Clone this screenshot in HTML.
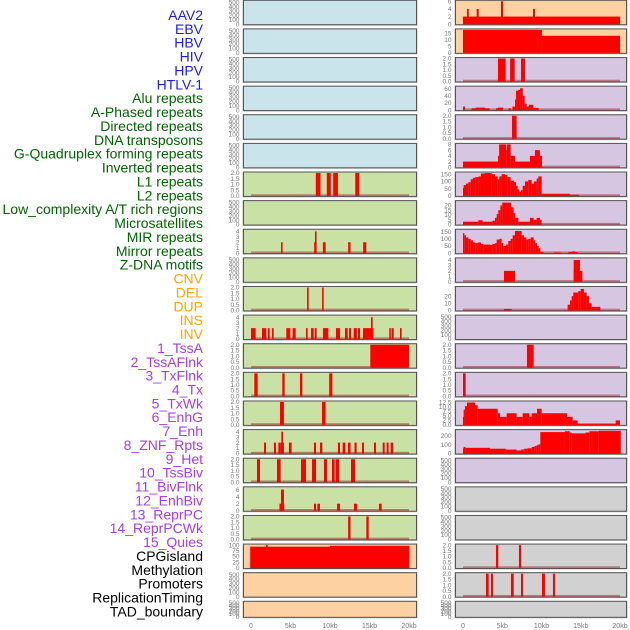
<!DOCTYPE html>
<html><head><meta charset="utf-8"><style>
html,body{margin:0;padding:0;background:#fff;width:630px;height:630px;overflow:hidden}
svg text{font-family:"Liberation Sans",sans-serif}
</style></head><body>
<svg id="chart" width="630" height="630" viewBox="0 0 630 630" xmlns="http://www.w3.org/2000/svg">
<g id="labels"></g>
<g id="panels"></g>
</svg>
<script>
const labelNames = ["AAV2","EBV","HBV","HIV","HPV","HTLV-1","Alu repeats","A-Phased repeats","Directed repeats","DNA transposons","G-Quadruplex forming repeats","Inverted repeats","L1 repeats","L2 repeats","Low_complexity A/T rich regions","Microsatellites","MIR repeats","Mirror repeats","Z-DNA motifs","CNV","DEL","DUP","INS","INV","1_TssA","2_TssAFlnk","3_TxFlnk","4_Tx","5_TxWk","6_EnhG","7_Enh","8_ZNF_Rpts","9_Het","10_TssBiv","11_BivFlnk","12_EnhBiv","13_ReprPC","14_ReprPCWk","15_Quies","CPGisland","Methylation","Promoters","ReplicationTiming","TAD_boundary"];
const labelGroups = ["v","v","v","v","v","v","r","r","r","r","r","r","r","r","r","r","r","r","r","c","c","c","c","c","h","h","h","h","h","h","h","h","h","h","h","h","h","h","h","o","o","o","o","o"];
const groupColors = {v:"#1a1aff",r:"#006400",c:"#ffa500",h:"#a43cf0",o:"#000000"};
const xTickLabels = ["0","5kb","10kb","15kb","20kb"];
const xTickValues = [0,5,10,15,20];

// left column panels: fill, ymax, ticks, segments [startKb,endKb,value]
const leftFill = ["b","b","b","b","b","b","g","g","g","g","g","g","g","g","g","g","g","g","g","o","o","o"];
const leftMax = [520,520,520,520,520,520,2,520,4.2,520,2,4.2,2,2,2,4.2,2,6.5,2,100,520,520];
const leftTicks = [
 [0,100,200,300,400,500],[0,100,200,300,400,500],[0,100,200,300,400,500],[0,100,200,300,400,500],[0,100,200,300,400,500],[0,100,200,300,400,500],
 [0,0.5,1,1.5,2],[0,100,200,300,400,500],[0,1,2,3,4],[0,100,200,300,400,500],[0,0.5,1,1.5,2],[0,1,2,3,4],
 [0,0.5,1,1.5,2],[0,0.5,1,1.5,2],[0,0.5,1,1.5,2],[0,1,2,3,4],[0,0.5,1,1.5,2],[0,2,4,6],[0,0.5,1,1.5,2],
 [0,25,50,75,100],[0,100,200,300,400,500],[0,100,200,300,400,500]];
const leftTickText = [null,null,null,null,null,null,["0.0","0.5","1.0","1.5","2.0"],null,null,null,["0.0","0.5","1.0","1.5","2.0"],null,["0.0","0.5","1.0","1.5","2.0"],["0.0","0.5","1.0","1.5","2.0"],["0.0","0.5","1.0","1.5","2.0"],null,["0.0","0.5","1.0","1.5","2.0"],null,["0.0","0.5","1.0","1.5","2.0"],null,null,null];
const leftSegs = [
 [],[],[],[],[],[],
 [[8.2,8.8,2],[9.6,10.1,2],[10.4,11.0,2],[13.2,13.7,2]],
 [],
 [[3.8,4.0,2],[8.0,8.3,2],[8.1,8.3,4],[9.1,9.45,2],[12.3,12.6,2],[14.2,14.6,2]],
 [],
 [[7.1,7.3,2],[9.0,9.2,2]],
 [[0,0.59,2],[1.39,1.94,2],[2.15,2.36,2],[2.66,2.87,2],[4.47,4.98,2],[5.27,5.65,2],[6.96,7.17,2],[7.6,7.93,2],[8.06,8.31,2],[9.11,9.79,2],[10.76,11.27,2],[11.9,12.24,2],[12.4,12.66,2],[13.0,13.4,2],[13.54,13.8,2],[14.18,15.5,2],[15.19,15.4,4],[17.5,17.7,2],[17.8,18.06,2],[18.86,19.07,2]],
 [[15.1,20.0,2]],
 [[0.42,0.84,2],[3.96,4.26,2],[6.2,6.5,2],[9.9,10.3,2]],
 [[3.67,4.17,2],[8.99,9.45,2]],
 [[1.65,1.9,2],[2.9,3.16,2],[3.46,3.7,2],[3.7,4.17,2],[3.84,4.05,4],[4.8,5.14,2],[7.97,8.23,2],[8.73,9.03,2],[11.0,11.27,2],[11.6,11.94,2],[12.28,12.6,2],[13.1,13.37,2],[14.05,14.3,2],[15.57,15.82,2],[16.67,16.92,2],[17.17,17.42,2],[17.68,18.0,2]],
 [[0.76,1.14,2],[3.29,3.75,2],[6.33,6.96,2],[7.72,8.23,2],[9.24,9.62,2],[10.25,10.59,2],[10.71,11.14,2],[12.66,13.17,2]],
 [[3.6,4.2,2],[3.8,4.17,6],[7.97,8.23,2],[8.4,8.73,2],[10.89,11.27,2],[13.04,13.42,2],[16.2,16.54,2]],
 [[12.3,12.6,2],[14.6,14.9,2]],
 [[-0.1,10,93],[10,20.05,97],[1.9,2.1,100]],
 [],[]];

// right column panels
const rightFill = ["o","o","p","p","p","p","p","p","p","p","p","p","p","p","p","p","p","x","x","x","x","x"];
const rightMax = [6,17.5,2,65,2,8,158,24,160,4.2,32,520,2,2,12.8,262,520,520,520,2,2,520];
const rightTicks = [
 [0,2,4,6],[0,5,10,15],[0,0.5,1,1.5,2],[0,20,40,60],[0,0.5,1,1.5,2],[0,2,4,6,8],
 [0,50,100,150],[0,5,10,15,20],[0,50,100,150],[0,1,2,3,4],[0,10,20],[0,100,200,300,400,500],
 [0,0.5,1,1.5,2],[0,0.5,1,1.5,2],[0,2.5,5,7.5,10,12.5],[0,100,200],[0,100,200,300,400,500],
 [0,100,200,300,400,500],[0,100,200,300,400,500],[0,0.5,1,1.5,2],[0,0.5,1,1.5,2],[0,100,200,300,400,500]];
const rightTickText = [null,null,["0.0","0.5","1.0","1.5","2.0"],null,["0.0","0.5","1.0","1.5","2.0"],null,null,null,null,null,null,null,["0.0","0.5","1.0","1.5","2.0"],["0.0","0.5","1.0","1.5","2.0"],["0.0","2.5","5.0","7.5","10.0","12.5"],null,null,null,null,["0.0","0.5","1.0","1.5","2.0"],["0.0","0.5","1.0","1.5","2.0"],null];
const rightSegs = [
 [[0,20,2],[0.51,0.73,4],[1.74,2.0,4],[4.84,5.1,6],[8.92,9.17,4]],
 [[0,10.06,17.5],[10.06,20,13]],
 [[4.46,5.44,2],[6.0,6.58,2],[7.39,7.9,2]],
 [[0,0.25,10],[1.1,1.6,5],[1.6,2.8,7],[2.8,3.4,5],[4.2,4.45,5],[4.45,5.1,7],[5.8,6.1,5],[6.3,6.63,10],[6.63,6.76,30],[6.76,7.01,55],[7.01,7.27,57],[7.27,7.61,62],[7.61,7.86,40],[7.86,8.11,18],[8.11,8.4,10],[8.4,8.96,15],[8.96,9.64,6]],
 [[6.24,6.83,2]],
 [[0,4.46,2],[4.46,4.6,4],[4.6,5.5,8],[5.5,5.6,6],[5.6,6.07,8],[6.07,6.63,4],[6.63,8.53,2],[8.53,9.17,4],[9.17,9.8,6],[9.8,10.06,4]],
 [[0,0.08,55],[0.08,0.38,75],[0.38,0.68,85],[0.68,0.98,95],[0.98,1.27,115],[1.27,1.57,125],[1.57,1.99,130],[1.99,2.29,135],[2.29,2.8,155],[2.8,3.65,158],[3.65,4.08,150],[4.08,4.42,135],[4.42,4.63,115],[4.63,4.92,135],[4.92,5.35,150],[5.35,5.65,145],[5.65,6.07,130],[6.07,6.5,105],[6.5,6.75,95],[6.75,6.96,70],[6.96,7.18,45],[7.18,7.39,30],[7.39,7.6,40],[7.6,7.9,70],[7.9,8.32,100],[8.32,8.75,110],[8.75,9.04,85],[9.04,9.38,100],[9.38,9.6,120],[9.6,10.02,135],[10.02,13.6,15],[13.6,14.78,8]],
 [[0,1.95,3],[1.95,2.5,4.5],[2.5,3.77,3],[3.77,4.07,4],[4.07,4.29,7],[4.29,4.5,11],[4.5,4.76,15],[4.76,5.0,20],[5.0,6.11,23],[6.11,6.45,18],[6.45,6.66,12],[6.66,7.05,7],[7.05,8.53,3],[8.53,9.0,7],[9.0,9.38,5],[9.38,9.8,7],[9.8,10.02,5]],
 [[0,0.17,140],[0.17,0.38,125],[0.38,0.68,110],[0.68,0.98,100],[0.98,1.27,90],[1.27,1.57,75],[1.57,1.87,70],[1.87,2.29,75],[2.29,2.59,65],[2.59,3.44,60],[3.44,3.74,58],[3.74,4.08,65],[4.08,4.29,70],[4.29,4.63,95],[4.63,4.92,100],[4.92,5.14,70],[5.14,5.48,50],[5.48,5.77,60],[5.77,6.07,85],[6.07,6.33,100],[6.33,6.62,125],[6.62,7.47,155],[7.47,7.77,125],[7.77,8.07,110],[8.07,8.32,95],[8.32,8.62,100],[8.62,9.0,110],[9.0,9.21,90],[9.21,9.43,70],[9.43,9.64,50],[9.64,9.85,35],[9.85,10.27,10],[11.59,12.44,5],[13.42,14.6,8],[13.9,14.3,12]],
 [[5.22,6.62,2],[14.1,15.2,2],[14.1,14.9,4]],
 [[5.22,6.2,2],[13.33,13.63,8],[13.63,13.84,14],[13.84,14.05,20],[14.05,14.69,25],[14.69,14.99,27],[14.99,15.41,30],[15.41,15.75,25],[15.75,16.05,20],[16.05,16.39,10],[16.39,17.5,5]],
 [],
 [[8.15,9.0,2]],
 [[0,0.34,2]],
 [[0,0.08,4.5],[0.08,0.25,8.5],[0.25,0.51,10.5],[0.51,1.53,12.5],[1.53,1.87,11],[1.87,4.42,9],[4.42,4.71,6.5],[4.71,5.56,4.5],[5.56,6.83,6.5],[6.83,7.6,4.5],[7.6,8.45,6.5],[8.45,8.75,4.5],[8.75,9.43,6.5],[9.43,10.02,9],[10.02,13.25,6.5],[13.25,13.97,4.5],[13.97,14.6,2.5],[14.6,19.45,0.5],[19.45,20,2.5]],
 [[0,0.08,60],[0.08,0.3,75],[0.3,3.44,65],[3.44,5.44,55],[5.44,6.83,45],[6.83,7.39,35],[7.39,7.8,45],[7.8,8.24,55],[8.24,8.75,60],[8.75,9.08,75],[9.08,9.38,85],[9.38,9.6,95],[9.6,9.85,105],[9.85,12.99,245],[12.99,13.6,255],[13.6,13.84,240],[13.84,15.6,230],[15.6,16.1,240],[16.1,17.3,255],[17.3,20.1,260]],
 [],[],[],
 [[4.2,4.5,2],[7.13,7.4,2]],
 [[2.93,3.27,2],[3.57,3.82,2],[6.11,6.46,2],[7.39,7.64,2],[10.06,10.44,2],[11.46,11.72,2]],
 []];

const NS="http://www.w3.org/2000/svg";
const fills={b:"#c9e4eb",g:"#c9e1a5",o:"#fdd1a2",p:"#d6c6e2",x:"#d1d1d1"};
function mk(tag,attrs,parent){const e=document.createElementNS(NS,tag);for(const k in attrs)e.setAttribute(k,attrs[k]);parent.appendChild(e);return e;}
const labelsG=document.getElementById('labels');
labelNames.forEach((t,i)=>{
  const el=mk('text',{x:203,y:20+i*13.87,'text-anchor':'end','font-size':'14',fill:groupColors[labelGroups[i]]},labelsG);
  el.textContent=t;
  
  
});
const panelsG=document.getElementById('panels');
function rowTop(i){return 0.3+28.62*i;}
function rowH(i){return i===21?16:24.4;}
function drawCol(col,px0,px1,kx0,kx1,tickX,fillArr,maxArr,ticksArr,tickTextArr,segArr){
  const xs=kb=>kx0+(kb/20)*(kx1-kx0);
  for(let i=0;i<22;i++){
    const top=rowTop(i),h=rowH(i),bot=top+h;
    const g=mk('g',{},panelsG);
    
    
    mk('rect',{x:px0-1,y:top-0.5,width:px1-px0+2,height:h+1.5,fill:'#bbb'},g);
    mk('rect',{x:px0,y:top,width:px1-px0,height:h,fill:fills[fillArr[i]],stroke:'#555','stroke-width':1},g);
    const ys=v=>bot-0.5-(v/maxArr[i])*(h-1.5);
    ticksArr[i].forEach((tv,j)=>{
      const tt=mk('text',{x:tickX,y:ys(tv)+2.2,'text-anchor':'end','font-size':'6.5',fill:'#777'},g);
      tt.textContent=tickTextArr[i]?tickTextArr[i][j]:String(tv);
      
      
    });
    const segs=segArr[i];
    if(segs.length){
      const base=mk('rect',{x:xs(0),y:bot-2.2,width:xs(20)-xs(0),height:2,fill:'rgba(150,20,20,0.45)'},g);
      
      
    }
    segs.forEach(s=>{
      const x0=Math.max(xs(s[0]),px0+0.5),x1=Math.min(xs(s[1]),px1-0.5);
      const y=Math.max(ys(s[2]),top+0.5);
      const r=mk('rect',{x:x0,y:y,width:Math.max(x1-x0,1.2),height:bot-0.5-y,fill:'#ff0000'},g);
      
      
    });
  }
  xTickValues.forEach((v,j)=>{
    const t=mk('text',{x:xs(v),y:628,'text-anchor':'middle','font-size':'7',fill:'#777'},panelsG);
    t.textContent=xTickLabels[j];
    
    
  });
}
drawCol('left',243.5,416.5,251,409,239.5,leftFill,leftMax,leftTicks,leftTickText,leftSegs);
drawCol('right',455.5,626.5,463,620,451.5,rightFill,rightMax,rightTicks,rightTickText,rightSegs);
</script>
</body></html>
